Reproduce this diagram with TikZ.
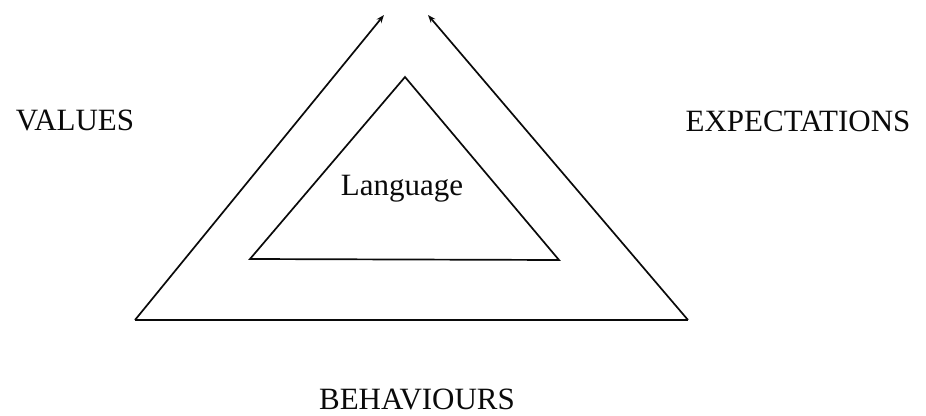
\documentclass[tikz,border=0pt]{standalone}
\usepackage{fontspec}
\setmainfont{Liberation Serif}
\usetikzlibrary{calc,arrows.meta}
\definecolor{inkBlack}{RGB}{10,10,10}
\tikzset{
  framePart/.style={draw=inkBlack,line width=1.7pt,line join=miter},
  frameArrow/.style={framePart,-{Stealth[length=8pt,width=6pt]}},
  termLabel/.style={anchor=base,inner sep=0pt,font=\fontsize{31}{33}\selectfont,text=inkBlack}
}

\begin{document}
\begin{tikzpicture}[x=1pt,y=-1pt]
\useasboundingbox (0,0) rectangle (926,415);
% outer frame
\coordinate (outerLeft) at (135,320);
\coordinate (outerRight) at (688,320);
\coordinate (tipLeft) at (384,15);
\coordinate (tipRight) at (428,15);
\draw[frameArrow] (outerLeft) -- (tipLeft);
\draw[frameArrow] (outerRight) -- (tipRight);
\draw[framePart] (outerLeft) -- (outerRight);
% inner triangle
\coordinate (innerTop) at (405,77);
\coordinate (innerLeft) at (250,259);
\coordinate (innerRight) at (559,260);
\draw[framePart] (innerTop) -- (innerLeft) -- (innerRight) -- cycle;
% labels
\node[termLabel] (values) at (75,130) {VALUES};
\node[termLabel] (expectations) at (798,131) {EXPECTATIONS};
\node[termLabel] (language) at (402,195) {Language};
\node[termLabel] (behaviours) at (417,409) {BEHAVIOURS};
\end{tikzpicture}
\end{document}
